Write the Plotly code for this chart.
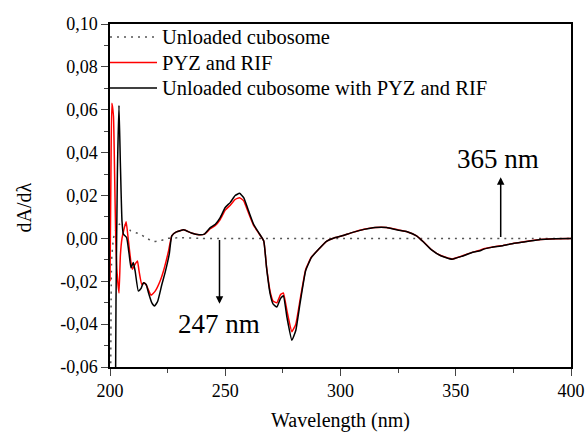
import plotly.graph_objects as go

# ---- data ----
wl_black = [202.3, 202.6, 203.2, 203.9, 204.5, 205.2, 205.8, 207.2, 208.3, 209.1, 210.1, 210.9,
            212.3, 213.5, 214.5, 215.7, 216.7, 218.1, 219.3, 220.7, 222.5, 223.9, 225.7, 226.8,
            228.8, 232.0, 235.3, 238.6, 241.0, 243.5, 245.7, 247.8, 250.0, 252.2, 254.3, 256.2,
            258.0, 260.1, 262.3, 264.5, 266.7, 267.9, 269.5, 270.8, 272.4, 274.0, 275.2, 276.8,
            278.9, 280.6, 282.5, 284.9, 287.4, 290.6, 293.9, 297.2, 300.4, 305.3, 310.2, 315.0,
            320.0, 324.8, 328.9, 333.0, 336.2, 339.5, 343.5, 348.4, 352.5, 357.4, 360.6, 362.2,
            365.5, 370.4, 375.3, 380.2, 386.7, 393.2, 400.0]
val_black = [-0.09, -0.03, 0.03, 0.062, 0.035, 0.008, 0.002, 0.0004, -0.0074, -0.0137, -0.0113, -0.0152,
             -0.0246, -0.0233, -0.0207, -0.0215, -0.0254, -0.030, -0.0316, -0.0293, -0.0215, -0.016, -0.0074, 0.0012,
             0.003, 0.004, 0.0025, 0.0017, 0.002, 0.005, 0.0066, 0.0097, 0.0144, 0.0168, 0.020, 0.021,
             0.019, 0.0129, 0.0066, 0.0027, -0.0012, -0.0135, -0.026, -0.0307, -0.032, -0.028, -0.0268, -0.037,
             -0.0475, -0.043, -0.030, -0.015, -0.0089, -0.005, -0.0014, 0.0002, 0.0011, 0.0028, 0.0042, 0.0051,
             0.0051, 0.0039, 0.0031, 0.0012, -0.0019, -0.0054, -0.0081, -0.0097, -0.0084, -0.0065, -0.0058, -0.005,
             -0.0042, -0.0034, -0.0023, -0.0016, -0.0005, -0.0002, 0.0]

wl_red = [200.0, 200.4, 200.8, 201.5, 202.0, 202.5, 203.0, 203.9, 204.5, 205.2, 206.0, 207.0,
          208.0, 209.0, 209.7, 210.9, 211.9, 212.6, 213.8, 214.9, 215.9, 217.8, 219.6, 221.7,
          223.2, 225.4, 226.8, 228.8, 232.0, 235.3, 238.6, 241.0, 243.5, 245.7, 247.8, 250.0,
          252.2, 254.3, 256.2, 258.0, 260.1, 262.3, 264.5, 266.7, 267.9, 269.5, 270.8, 272.4,
          274.0, 275.2, 276.8, 278.9, 280.6, 282.5, 284.9, 287.4, 290.6, 293.9, 297.2, 300.4,
          305.3, 310.2, 315.0, 320.0, 324.8, 328.9, 333.0, 336.2, 339.5, 343.5, 348.4, 352.5,
          357.4, 360.6, 362.2, 365.5, 370.4, 375.3, 380.2, 386.7, 393.2, 400.0]
val_red = [-0.02, 0.03, 0.063, 0.057, 0.03, 0.0, -0.015, -0.0255, -0.008, 0.0, 0.004, 0.0078,
           -0.0012, -0.0105, -0.0144, -0.012, -0.0105, -0.0152, -0.0215, -0.0207, -0.0222, -0.0265, -0.0246, -0.020,
           -0.0152, -0.0059, 0.0012, 0.003, 0.004, 0.0025, 0.0017, 0.002, 0.0045, 0.006, 0.0088, 0.0132,
           0.0155, 0.0182, 0.019, 0.0175, 0.0118, 0.006, 0.0025, -0.0012, -0.0132, -0.025, -0.0293, -0.030,
           -0.0262, -0.0255, -0.034, -0.0435, -0.040, -0.0285, -0.0145, -0.0087, -0.005, -0.0014, 0.0002, 0.0011,
           0.0028, 0.0043, 0.0051, 0.0051, 0.004, 0.0031, 0.0012, -0.0018, -0.0053, -0.008, -0.0096, -0.0083,
           -0.0064, -0.0055, -0.0048, -0.0041, -0.0033, -0.0023, -0.0015, -0.0005, -0.0002, 0.0]

wl_unloaded = [200.3, 200.7, 201.5, 202.5, 204.0, 206.0, 209.0, 213.0, 216.0, 219.0, 222.0, 225.0,
               230.0, 240.0, 260.0, 300.0, 340.0, 380.0, 400.0]
val_unloaded = [-0.065, -0.01, 0.0, 0.004, 0.0065, 0.007, 0.0035, 0.002, 0.0, -0.0015, -0.001, 0.0,
                0.0003, 0.0, 0.0, 0.0, 0.0, 0.0, 0.0]

series_names = ["Unloaded cubosome", "PYZ and RIF", "Unloaded cubosome with PYZ and RIF"]
series_colors = ["#555555", "#ff0000", "#000000"]
series_dash = ["2px,5px", "solid", "solid"]

y_tickvals = [-0.06, -0.04, -0.02, 0.0, 0.02, 0.04, 0.06, 0.08, 0.10]
y_ticktext = ["-0,06", "-0,04", "-0,02", "0,00", "0,02", "0,04", "0,06", "0,08", "0,10"]
x_tickvals = [200, 250, 300, 350, 400]

x_title = "Wavelength (nm)"
y_title = "dA/dλ"

peak_labels = ["247 nm", "365 nm"]
arrow_x = [247.5, 369.5]
arrow_tip = [-0.0305, 0.0285]
label_y = [-0.040, 0.037]
label_x = [247.3, 368.2]

FONT = "Liberation Serif"

W, H = 588, 432
ML, MR, MT, MB = 110, 17, 24, 65
PW, PH = W - ML - MR, H - MT - MB

def px_x(p):
    return (p - ML) / PW

def px_y(p):
    return (H - MB - p) / PH

fig = go.Figure()
xs_all = [wl_unloaded, wl_red, wl_black]
ys_all = [val_unloaded, val_red, val_black]
for i in range(3):
    fig.add_trace(go.Scatter(x=xs_all[i], y=ys_all[i], mode="lines", name=series_names[i],
                             showlegend=False,
                             line=dict(color=series_colors[i], width=1.5, dash=series_dash[i],
                                       shape="spline", smoothing=0.4)))

# legend drawn in the top-left corner of the plot (sample line + text)
legend_rows_px = [37, 62.5, 88]
for i in range(3):
    fig.add_shape(type="line", xref="paper", yref="paper",
                  x0=px_x(110), x1=px_x(157), y0=px_y(legend_rows_px[i]), y1=px_y(legend_rows_px[i]),
                  line=dict(color=series_colors[i], width=1.5, dash=series_dash[i]))
    fig.add_annotation(x=px_x(160), y=px_y(legend_rows_px[i]), xref="paper", yref="paper",
                       xanchor="left", yanchor="middle", text=series_names[i], showarrow=False,
                       font=dict(family=FONT, size=20.5, color="black"))

for i in range(2):
    fig.add_annotation(x=arrow_x[i], y=arrow_tip[i], ax=arrow_x[i], ay=0.0,
                       xref="x", yref="y", axref="x", ayref="y", text="",
                       showarrow=True, arrowhead=2, arrowsize=1, arrowwidth=1.5, arrowcolor="black")
    fig.add_annotation(x=label_x[i], y=label_y[i], xref="x", yref="y", text=peak_labels[i],
                       showarrow=False, font=dict(family=FONT, size=27, color="black"))

# y-axis title (placed as in the reference, slightly below the axis centre)
fig.add_annotation(x=px_x(23.5), y=px_y(208), xref="paper", yref="paper", text=y_title,
                   textangle=-90, showarrow=False, xanchor="center", yanchor="middle",
                   font=dict(family=FONT, size=20, color="black"))

fig.update_layout(
    width=W, height=H,
    margin=dict(l=ML, r=MR, t=MT, b=MB, autoexpand=False),
    paper_bgcolor="white", plot_bgcolor="white",
    font=dict(family=FONT, size=18, color="black"),
    showlegend=False,
)
fig.update_xaxes(range=[200, 400], tickvals=x_tickvals, ticks="outside", ticklen=7, tickwidth=1.2,
                 automargin=False,
                 showline=True, linecolor="black", linewidth=1.5, mirror=True, showgrid=False, zeroline=False,
                 minor=dict(ticks="outside", ticklen=4, tickwidth=1, dtick=25, tick0=200, showgrid=False),
                 title=dict(text=x_title, font=dict(family=FONT, size=20), standoff=14))
fig.update_yaxes(range=[-0.06, 0.10], tickvals=y_tickvals, ticktext=y_ticktext, ticks="outside", ticklen=7,
                 tickwidth=1.2, automargin=False,
                 showline=True, linecolor="black", linewidth=1.5, mirror=True, showgrid=False,
                 zeroline=False,
                 minor=dict(ticks="outside", ticklen=4, tickwidth=1, dtick=0.01, tick0=0, showgrid=False))

fig.write_html("out.html")
